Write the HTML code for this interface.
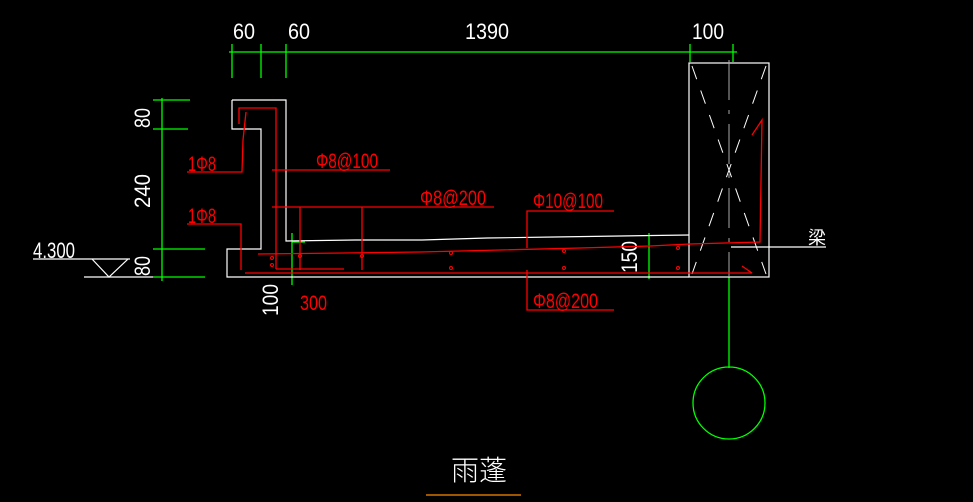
<!DOCTYPE html>
<html><head><meta charset="utf-8"><style>html,body{margin:0;padding:0;background:#000;}svg{display:block}</style></head>
<body>
<svg width="973" height="502" viewBox="0 0 973 502" xmlns="http://www.w3.org/2000/svg" font-family="Liberation Sans, sans-serif">
<rect width="973" height="502" fill="#000"/>
<g stroke="#0f0" stroke-width="1.3" fill="none">
<line x1="229" y1="52" x2="737" y2="52"/>
<line x1="232" y1="44" x2="232" y2="78"/><line x1="261" y1="44" x2="261" y2="78"/><line x1="286" y1="44" x2="286" y2="78"/>
<line x1="690" y1="44" x2="690" y2="62"/><line x1="733" y1="44" x2="733" y2="62"/>
<line x1="729" y1="277" x2="729" y2="368"/>
<circle cx="729" cy="403" r="36"/>
<line x1="162" y1="98" x2="162" y2="281"/>
<line x1="153" y1="100" x2="190" y2="100"/><line x1="153" y1="129" x2="188" y2="129"/>
<line x1="153" y1="249" x2="205" y2="249"/><line x1="153" y1="277" x2="205" y2="277"/>
<line x1="292" y1="233" x2="292" y2="285"/><line x1="292" y1="242" x2="305" y2="242"/>
<line x1="649" y1="233" x2="649" y2="279"/>
</g>
<g fill="#fff" font-size="22">
<text x="233" y="39" textLength="22" lengthAdjust="spacingAndGlyphs">60</text>
<text x="288" y="39" textLength="22" lengthAdjust="spacingAndGlyphs">60</text>
<text x="465" y="39" textLength="44" lengthAdjust="spacingAndGlyphs">1390</text>
<text x="692" y="39" textLength="32" lengthAdjust="spacingAndGlyphs">100</text>
<text x="33" y="258" textLength="42" lengthAdjust="spacingAndGlyphs">4.300</text>
<text transform="translate(150,128) rotate(-90)" textLength="20" lengthAdjust="spacingAndGlyphs">80</text>
<text transform="translate(150,208) rotate(-90)" textLength="34" lengthAdjust="spacingAndGlyphs">240</text>
<text transform="translate(150,276) rotate(-90)" textLength="20" lengthAdjust="spacingAndGlyphs">80</text>
<text transform="translate(278,316) rotate(-90)" textLength="32" lengthAdjust="spacingAndGlyphs">100</text>
<text transform="translate(637,273) rotate(-90)" textLength="32" lengthAdjust="spacingAndGlyphs">150</text>
<text x="808" y="244" font-size="18" font-family="Noto Sans CJK SC, sans-serif">梁</text>
<text x="451" y="480" font-size="28" font-family="Noto Sans CJK SC, sans-serif" font-weight="300">雨蓬</text>
</g>
<line x1="426" y1="495" x2="521" y2="495" stroke="#f80" stroke-width="1.2"/>
<g stroke="#fff" stroke-width="1.2" fill="none">
<line x1="33" y1="259" x2="130" y2="259"/>
<polyline points="92,259 109,277 128,259"/>
<line x1="84" y1="277" x2="153" y2="277"/>
<polyline points="232,100 286,100 286,241 355,240 422,240 487,238 554,237 620,236 689,235"/>
<polyline points="232,100 232,129 261,129 261,249 227,249 227,277 689,277"/>
<rect x="689" y="63" width="80" height="214"/>
<line x1="731" y1="247" x2="826" y2="247"/>
</g>
<g stroke="#fff" stroke-width="1" stroke-dasharray="14,12">
<line x1="692" y1="66" x2="766" y2="274"/>
<line x1="766" y1="66" x2="692" y2="274"/>
</g>
<line x1="729" y1="60" x2="729" y2="277" stroke="#aaa" stroke-width="1" stroke-dasharray="40,10,4,10"/>
<g stroke="#f00" stroke-width="1.3" fill="none">
<polyline points="239,124 239,108 276,108 276,269"/>
<polyline points="246,112 243,140 242,172 187,172"/>
<polyline points="187,224 241,224 241,270"/>
<polyline points="258,254 343,253 420,252 500,250 580,248 650,246 690,244 760,242 762,120 752,135"/>
<line x1="245" y1="273" x2="752" y2="273"/>
<line x1="276" y1="269" x2="344" y2="269"/>
<line x1="742" y1="266" x2="752" y2="273"/>
<line x1="272" y1="170" x2="390" y2="170"/>
<line x1="272" y1="207" x2="494" y2="207"/>
<line x1="300" y1="207" x2="300" y2="270"/><line x1="362" y1="207" x2="362" y2="270"/>
<polyline points="614,211 527,211 527,248"/>
<polyline points="527,270 527,310 614,310"/>
</g>
<g fill="#f00" font-size="21">
<text x="188" y="171" textLength="28" lengthAdjust="spacingAndGlyphs">1Φ8</text>
<text x="188" y="223" textLength="28" lengthAdjust="spacingAndGlyphs">1Φ8</text>
<text x="316" y="168" textLength="62" lengthAdjust="spacingAndGlyphs">Φ8@100</text>
<text x="420" y="205" textLength="66" lengthAdjust="spacingAndGlyphs">Φ8@200</text>
<text x="533" y="208" textLength="70" lengthAdjust="spacingAndGlyphs">Φ10@100</text>
<text x="533" y="308" textLength="65" lengthAdjust="spacingAndGlyphs">Φ8@200</text>
<text x="300" y="310" textLength="27" lengthAdjust="spacingAndGlyphs">300</text>
</g>
<g fill="none" stroke="#f00" stroke-width="1">
<circle cx="272" cy="258" r="1.5"/><circle cx="272" cy="265" r="1.5"/><circle cx="300" cy="256" r="1.5"/>
<circle cx="362" cy="256" r="1.5"/><circle cx="451" cy="253" r="1.5"/><circle cx="451" cy="268" r="1.5"/>
<circle cx="564" cy="251" r="1.5"/><circle cx="564" cy="268" r="1.5"/><circle cx="678" cy="248" r="1.5"/><circle cx="678" cy="268" r="1.5"/>
</g>
</svg>
</body></html>
